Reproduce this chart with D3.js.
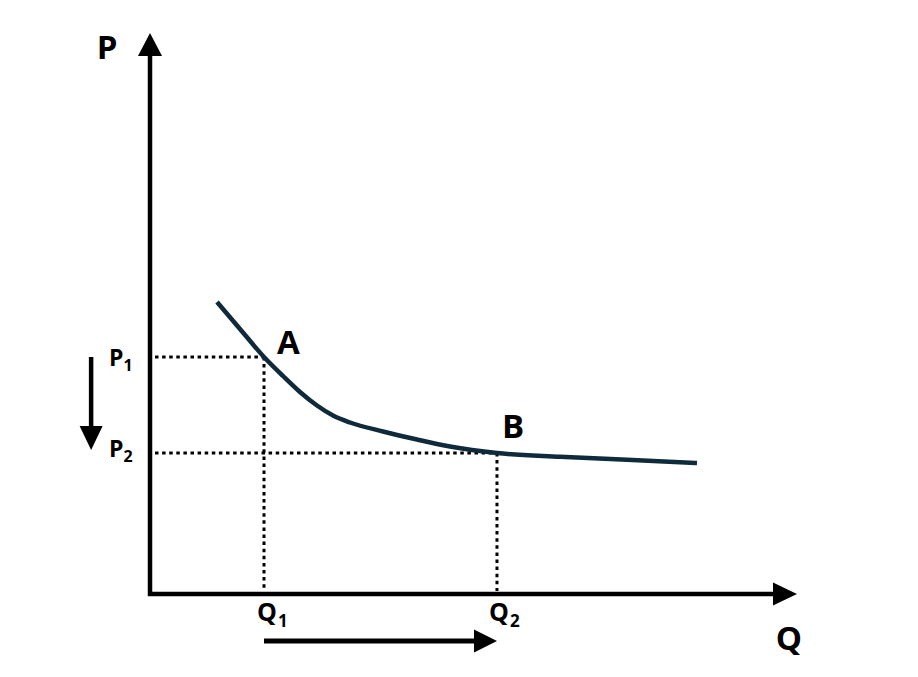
<!DOCTYPE html>
<html><head><meta charset="utf-8">
<script src="https://cdn.jsdelivr.net/npm/d3@7"></script>
<style>body{margin:0;background:#fff}svg{display:block}</style>
</head><body><svg id="c" width="918" height="677"></svg>
<script>
// Demand-like curve (data units 0..100 on both axes)
const curveQ = [10.36, 13.91, 17.62, 20.56, 23.18, 25.81, 28.28, 30.91, 36.01, 41.27, 46.37, 53.63, 63.37, 73.72, 84.54];
const curveP = [52.05, 47.24, 42.25, 38.86, 36.01, 33.60, 31.82, 30.57, 28.97, 27.54, 26.29, 25.13, 24.46, 23.92, 23.35];
// Marked points
const pointNames = ["A", "B"];
const pointQ = [17.62, 53.63];
const pointP = [42.25, 25.13];
const priceLabels = ["1", "2"];     // P subscripts
const quantityLabels = ["1", "2"];  // Q subscripts
const axisNames = ["P", "Q"];

const svg = d3.select("#c");
const x = d3.scaleLinear().domain([0, 100]).range([150, 797]);
const y = d3.scaleLinear().domain([0, 100]).range([594, 33]);
const FONT = "'Open Sans','Liberation Sans',Arial,sans-serif";

function arrowHead(tx, ty, dir, len, wid) {
  let pts;
  if (dir === "up") pts = [[tx, ty], [tx - wid / 2, ty + len], [tx + wid / 2, ty + len]];
  if (dir === "down") pts = [[tx, ty], [tx - wid / 2, ty - len], [tx + wid / 2, ty - len]];
  if (dir === "right") pts = [[tx, ty], [tx - len, ty - wid / 2], [tx - len, ty + wid / 2]];
  svg.append("polygon").attr("points", pts.map(p => p.join(",")).join(" ")).attr("fill", "#000");
}

// Axes
svg.append("line").attr("x1", x(0)).attr("x2", x(0)).attr("y1", y(0) + 2).attr("y2", y(100) + 20)
  .attr("stroke", "#000").attr("stroke-width", 4.5);
arrowHead(x(0), y(100), "up", 23, 24);
svg.append("line").attr("x1", x(0) - 2).attr("x2", x(100) - 20).attr("y1", y(0)).attr("y2", y(0))
  .attr("stroke", "#000").attr("stroke-width", 4.5);
arrowHead(x(100), y(0), "right", 24, 23);

// Axis names
svg.append("text").attr("x", x(0) - 43).attr("y", y(100) + 26).attr("text-anchor", "middle")
  .attr("font-family", FONT).attr("font-weight", 700).attr("font-size", 33).text(axisNames[0]);
svg.append("text").attr("x", x(100) - 8).attr("y", y(0) + 56).attr("text-anchor", "middle")
  .attr("font-family", FONT).attr("font-weight", 700).attr("font-size", 33).text(axisNames[1]);

// Dotted guide lines
const dots = { stroke: "#000", "stroke-width": 3, "stroke-dasharray": "3.5 3.6" };
pointNames.forEach((n, i) => {
  const h = svg.append("line").attr("x1", x(0) + 5).attr("x2", x(pointQ[i])).attr("y1", y(pointP[i])).attr("y2", y(pointP[i]));
  const v = svg.append("line").attr("x1", x(pointQ[i])).attr("x2", x(pointQ[i])).attr("y1", y(pointP[i])).attr("y2", y(0) - 3);
  [h, v].forEach(l => Object.entries(dots).forEach(([k, val]) => l.attr(k, val)));
});

// Curve
const curveData = curveQ.map((q, i) => [q, curveP[i]]);
svg.append("path").datum(curveData)
  .attr("d", d3.line().x(d => x(d[0])).y(d => y(d[1])).curve(d3.curveMonotoneX))
  .attr("fill", "none").attr("stroke", "#0f2a3a").attr("stroke-width", 4.5).attr("stroke-linecap", "butt");

// Point labels
const ptOff = [[13, -3], [5, -15]];
pointNames.forEach((n, i) => {
  svg.append("text").attr("x", x(pointQ[i]) + ptOff[i][0]).attr("y", y(pointP[i]) + ptOff[i][1])
    .attr("font-family", FONT).attr("font-weight", 700).attr("font-size", 33).text(n);
});

// Price labels P1, P2
const pOff = [9, 4];
pointP.forEach((p, i) => {
  const t = svg.append("text").attr("x", x(0) - 41).attr("y", y(p) + pOff[i])
    .attr("font-family", FONT).attr("font-weight", 700).attr("font-size", 23);
  t.append("tspan").text("P");
  t.append("tspan").attr("dx", 0).attr("dy", 5).attr("font-size", 16).text(priceLabels[i]);
});

// Quantity labels Q1, Q2
const qOff = [-7, -8];
pointQ.forEach((q, i) => {
  const t = svg.append("text").attr("x", x(q) + qOff[i]).attr("y", y(0) + 27)
    .attr("font-family", FONT).attr("font-weight", 700).attr("font-size", 25);
  t.append("tspan").text("Q");
  t.append("tspan").attr("dx", 1).attr("dy", 6).attr("font-size", 17).text(quantityLabels[i]);
});

// Movement arrows
const downX = x(-9.1);
svg.append("line").attr("x1", downX).attr("x2", downX).attr("y1", y(pointP[0])).attr("y2", y(pointP[1]) - 20)
  .attr("stroke", "#000").attr("stroke-width", 4.5);
arrowHead(downX, y(pointP[1]) - 3, "down", 24, 23);

const rightY = y(-8.4);
svg.append("line").attr("x1", x(pointQ[0])).attr("x2", x(pointQ[1]) - 20).attr("y1", rightY).attr("y2", rightY)
  .attr("stroke", "#000").attr("stroke-width", 5);
arrowHead(x(pointQ[1]), rightY, "right", 23, 23);
</script>
</body></html>
